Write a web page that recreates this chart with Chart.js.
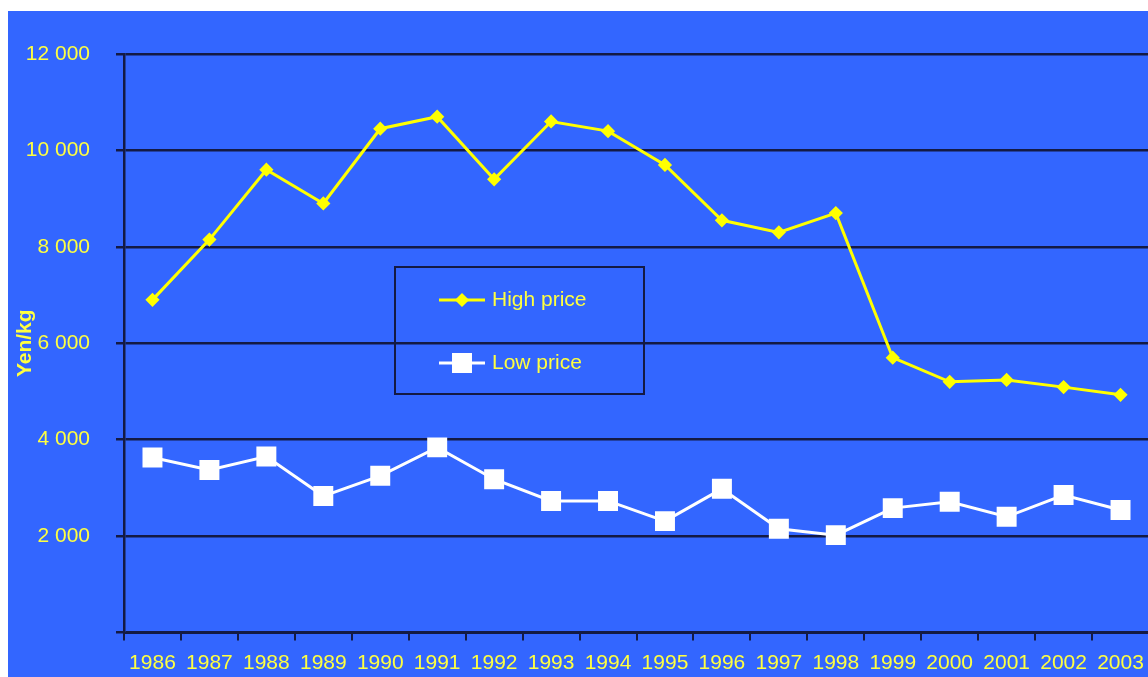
<!DOCTYPE html>
<html>
<head>
<meta charset="utf-8">
<script src="https://cdn.jsdelivr.net/npm/chart.js@4.4.0/dist/chart.umd.min.js"></script>
<style>
    html, body { margin: 0; padding: 0; background: #fff; overflow: hidden; }
    #wrap { position: absolute; left: 8px; top: 11px; width: 1156px; height: 666px; background: #3366ff; }
</style>
</head>
<body>
<div id="wrap"><canvas id="myChart"></canvas></div>
<script>
// values (Yen/kg)
const years = ["1986", "1987", "1988", "1989", "1990", "1991", "1992", "1993", "1994",
    "1995", "1996", "1997", "1998", "1999", "2000", "2001", "2002", "2003"];
const highPrice = [6900, 8150, 9600, 8900, 10450, 10700, 9400, 10600, 10400,
    9700, 8550, 8300, 8700, 5700, 5200, 5240, 5090, 4930];
const lowPrice = [3630, 3370, 3650, 2830, 3250, 3840, 3180, 2730, 2730,
    2310, 2980, 2150, 2020, 2580, 2710, 2400, 2850, 2540];
const yTickLabels = ["", "2 000", "4 000", "6 000", "8 000", "10 000", "12 000"];

const textYellow = "#ffff40";
const lineDark = "#141a44";
const font = "Arial, 'Liberation Sans', sans-serif";

// legend box drawn inside the plot, like the original
const boxLegend = {
    id: "boxLegend",
    afterDraw(chart) {
        const ctx = chart.ctx;
        ctx.save();
        ctx.strokeStyle = lineDark;
        ctx.lineWidth = 2;
        ctx.strokeRect(387, 256, 249, 127);

        chart.data.datasets.forEach((ds, i) => {
            const y = 289 + i * 63;
            ctx.strokeStyle = ds.borderColor;
            ctx.lineWidth = 3;
            ctx.beginPath();
            ctx.moveTo(431, y);
            ctx.lineTo(477, y);
            ctx.stroke();
            Chart.helpers.drawPoint(ctx, {
                pointStyle: ds.pointStyle,
                radius: ds.pointRadius,
                rotation: 0,
                borderWidth: 1
            }, 454, y);
            ctx.fillStyle = ds.pointBackgroundColor;
            ctx.fill();

            ctx.fillStyle = textYellow;
            ctx.font = "21px " + font;
            ctx.textBaseline = "middle";
            ctx.textAlign = "left";
            ctx.fillText(ds.label, 484, y);
        });
        ctx.restore();
    }
};

new Chart("myChart", {
    type: "line",
    data: {
        labels: years,
        datasets: [{
            label: "High price",
            data: highPrice,
            borderColor: "#ffff00",
            backgroundColor: "#ffff00",
            pointBackgroundColor: "#ffff00",
            pointBorderColor: "#ffff00",
            pointStyle: "rectRot",
            pointRadius: 5,
            borderWidth: 3,
            tension: 0
        }, {
            label: "Low price",
            data: lowPrice,
            borderColor: "#ffffff",
            backgroundColor: "#ffffff",
            pointBackgroundColor: "#ffffff",
            pointBorderColor: "#ffffff",
            pointStyle: "rect",
            pointRadius: 12,
            borderWidth: 3,
            tension: 0
        }]
    },
    options: {
        responsive: true,
        maintainAspectRatio: false,
        animation: false,
        layout: { padding: { top: 43, right: 0, bottom: 0, left: 0 } },
        plugins: {
            legend: { display: false },
            tooltip: { enabled: false }
        },
        scales: {
            x: {
                offset: true,
                grid: { offset: true, drawOnChartArea: false, drawTicks: true, tickLength: 8, color: lineDark, lineWidth: 2 },
                border: { display: true, color: lineDark, width: 2 },
                ticks: { color: textYellow, font: { size: 21, family: font }, padding: 10, maxRotation: 0, autoSkip: false },
                afterFit(scale) { scale.height = 44.5; }
            },
            y: {
                min: 0,
                max: 12000,
                grid: { color: lineDark, lineWidth: 2.5, drawTicks: true, tickLength: 8 },
                border: { display: true, color: lineDark, width: 2.5 },
                ticks: {
                    stepSize: 2000,
                    color: textYellow,
                    font: { size: 21, family: font },
                    padding: 26,
                    callback: (v, i) => yTickLabels[i]
                },
                title: {
                    display: true,
                    text: "Yen/kg",
                    color: textYellow,
                    font: { size: 21, weight: "bold", family: font },
                    padding: { top: 5, bottom: 0 }
                },
                afterFit(scale) { scale.width = 116; }
            }
        }
    },
    plugins: [boxLegend]
});
</script>
</body>
</html>
